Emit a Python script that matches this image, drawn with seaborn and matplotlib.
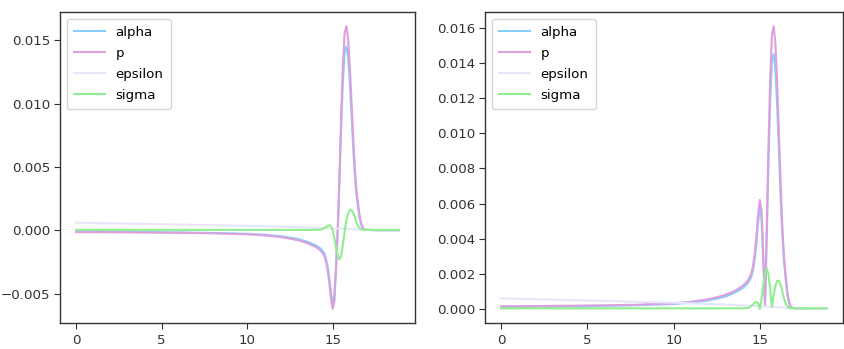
import numpy as np
import seaborn as sns
from matplotlib import pyplot as plt

x = [0, 2, 4, 6, 8, 10, 11, 12, 12.5, 13, 13.5, 14, 14.3, 14.5, 14.6, 14.7, 14.8, 14.9,
     15.0, 15.1, 15.2, 15.3, 15.4, 15.5, 15.6, 15.7, 15.8, 15.9, 16.0, 16.1, 16.2, 16.3,
     16.4, 16.5, 16.6, 16.7, 16.8, 17.0, 17.5, 18.0, 18.87]

alpha = [-0.00011, -0.00012, -0.00014, -0.00017, -0.00021, -0.00028, -0.00035, -0.00048,
         -0.00058, -0.0007, -0.0009, -0.00118, -0.00145, -0.0018, -0.0022, -0.0028, -0.0037,
         -0.0049, -0.0058, -0.0051, -0.0027, 0.0002, 0.0040, 0.0083, 0.0118, 0.0141, 0.0145,
         0.0137, 0.0117, 0.0092, 0.0065, 0.0043, 0.0027, 0.0017, 0.0008, 0.00035, 0.0001,
         0.00003, 0.00001, 0.0, 0.0]

p = [-0.00015, -0.00016, -0.00018, -0.0002, -0.00024, -0.00032, -0.0004, -0.00055,
     -0.00066, -0.0008, -0.001, -0.0013, -0.0016, -0.0020, -0.0024, -0.0031, -0.0041,
     -0.0054, -0.0062, -0.0056, -0.0030, 0.0002, 0.0045, 0.0092, 0.0131, 0.0156, 0.0161,
     0.0152, 0.0130, 0.0102, 0.0074, 0.0048, 0.0030, 0.0019, 0.0009, 0.0004, 0.00012,
     0.00003, 0.00001, 0.0, 0.0]

epsilon = [0.0006, 0.00055, 0.0005, 0.00045, 0.0004, 0.00035, 0.00032, 0.00028, 0.00026,
           0.00024, 0.00022, 0.0002, 0.00019, 0.00018, 0.00018, 0.00017, 0.00017, 0.00016,
           0.00015, 0.00015, 0.00014, 0.00014, 0.00013, 0.00013, 0.00012, 0.00012, 0.00011,
           0.00011, 0.0001, 0.0001, 0.00009, 0.00008, 0.00007, 0.00005, 0.00004, 0.00003,
           0.00002, 0.00002, 0.00001, 0.0, 0.0]

sigma = [0.00003, 0.00003, 0.00003, 0.00003, 0.00003, 0.00003, 0.00003, 0.00003, 0.00003,
         0.00003, 0.00003, 0.00003, 0.00005, 0.00015, 0.00025, 0.00035, 0.0004, 0.00032,
         0.0, -0.0006, -0.0014, -0.0020, -0.0023, -0.0020, -0.0011, -0.0001, 0.0008, 0.0013,
         0.0016, 0.0016, 0.0014, 0.0010, 0.0006, 0.0003, 0.00015, 0.00007, 0.00004, 0.00003,
         0.00003, 0.00003, 0.00003]

series = {'alpha': alpha, 'p': p, 'epsilon': epsilon, 'sigma': sigma}
colors = {'alpha': 'lightskyblue', 'p': 'plum', 'epsilon': 'lavender', 'sigma': 'lightgreen'}

plt.rcParams['font.size'] = 9.6
plt.rcParams['xtick.major.size'] = 4.2
plt.rcParams['ytick.major.size'] = 4.2
plt.rcParams['ytick.major.pad'] = 2.6
plt.rcParams['axes.linewidth'] = 1.0
plt.rcParams['axes.edgecolor'] = '#333333'
plt.rcParams['xtick.color'] = '#333333'
plt.rcParams['ytick.color'] = '#333333'
plt.rcParams['legend.handlelength'] = 2.3
plt.rcParams['legend.labelspacing'] = 0.6
plt.rcParams['legend.borderpad'] = 0.55

fig = plt.figure(figsize=(8.44, 3.49), dpi=100)
ax1 = fig.add_axes([0.0711, 0.0745, 0.4206, 0.891])
ax2 = fig.add_axes([0.5746, 0.0745, 0.424, 0.891])

#signed values
for name, vals in series.items():
    sns.lineplot(x=x, y=vals, color=colors[name], label=name, ax=ax1, linewidth=1.5)

#absolute values
for name, vals in series.items():
    sns.lineplot(x=x, y=np.abs(vals), color=colors[name], label=name, ax=ax2, linewidth=1.5)

for ax in (ax1, ax2):
    ax.legend(loc='upper left')
    ax.set_xticks([0, 5, 10, 15])

plt.savefig('out.png', dpi=100)
